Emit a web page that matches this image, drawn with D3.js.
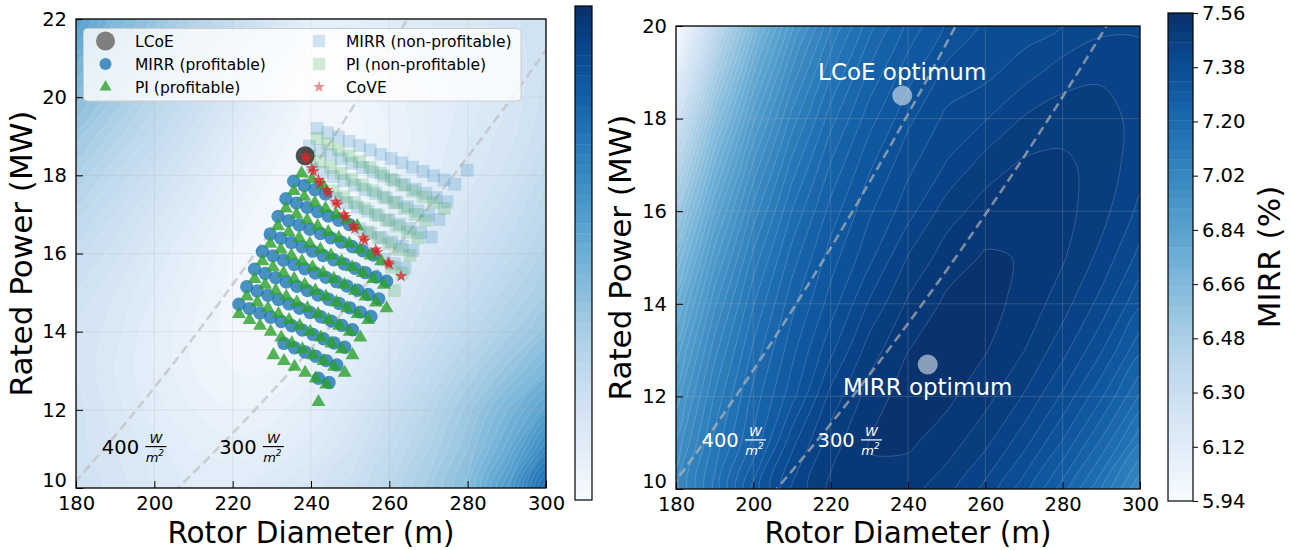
<!DOCTYPE html>
<html><head><meta charset="utf-8"><title>LCoE / MIRR design space</title>
<script src="https://cdn.jsdelivr.net/npm/d3@7/dist/d3.min.js"></script>
<style>html,body{margin:0;padding:0;background:#fff}svg{display:block}</style>
</head><body>
<svg id="chart" width="1290" height="550"></svg>
<script>
// ---------------- data ----------------
const xTicks = [180, 200, 220, 240, 260, 280, 300];
const yTicksLeft = [10, 12, 14, 16, 18, 20, 22];
const yTicksRight = [10, 12, 14, 16, 18, 20];
const mirrTicks = [5.94, 6.12, 6.30, 6.48, 6.66, 6.84, 7.02, 7.20, 7.38, 7.56];
const specificPowers = [400, 300];

// background field grids (rotor diameter columns, rated power rows)
const gridD = [180, 190, 200, 210, 220, 230, 240, 250, 260, 270, 280, 290, 300];
const leftGridP = [10, 11, 12, 13, 14, 15, 16, 17, 18, 19, 20, 21, 22];
const rightGridP = [10, 11, 12, 13, 14, 15, 16, 17, 18, 19, 20];

// normalised LCoE field (left panel, 0 = white, 1 = dark)
const lcoeField = [
  [0.20,0.17,0.14,0.12,0.12,0.14,0.17,0.21,0.28,0.35,0.43,0.58,0.78],
  [0.19,0.16,0.13,0.10,0.09,0.10,0.13,0.18,0.25,0.32,0.40,0.51,0.66],
  [0.19,0.15,0.11,0.08,0.06,0.07,0.10,0.15,0.22,0.29,0.37,0.46,0.55],
  [0.18,0.14,0.10,0.06,0.04,0.04,0.07,0.12,0.18,0.25,0.32,0.39,0.46],
  [0.18,0.15,0.10,0.06,0.03,0.02,0.05,0.09,0.15,0.21,0.27,0.33,0.39],
  [0.20,0.16,0.12,0.07,0.03,0.01,0.03,0.07,0.12,0.18,0.23,0.29,0.34],
  [0.23,0.19,0.14,0.09,0.04,0.01,0.02,0.05,0.10,0.15,0.20,0.25,0.31],
  [0.27,0.22,0.17,0.12,0.06,0.02,0.01,0.04,0.08,0.13,0.17,0.22,0.28],
  [0.32,0.26,0.21,0.15,0.09,0.04,0.01,0.03,0.07,0.11,0.15,0.19,0.25],
  [0.37,0.31,0.25,0.19,0.12,0.06,0.02,0.03,0.06,0.10,0.14,0.17,0.22],
  [0.43,0.36,0.29,0.23,0.16,0.09,0.04,0.04,0.07,0.10,0.13,0.16,0.21],
  [0.49,0.41,0.34,0.27,0.20,0.13,0.07,0.06,0.09,0.12,0.14,0.16,0.20],
  [0.56,0.46,0.39,0.31,0.25,0.17,0.10,0.09,0.12,0.14,0.15,0.17,0.20]
];

// MIRR (%) field (right panel)
const mirrField = [
  [6.997,7.149,7.313,7.435,7.504,7.523,7.509,7.474,7.420,7.346,7.252,7.139,7.005],
  [6.951,7.118,7.242,7.388,7.480,7.529,7.533,7.512,7.471,7.410,7.329,7.229,7.109],
  [6.893,7.078,7.215,7.321,7.442,7.510,7.544,7.535,7.507,7.460,7.392,7.306,7.199],
  [6.825,7.029,7.179,7.290,7.389,7.479,7.527,7.544,7.530,7.496,7.442,7.369,7.275],
  [6.743,6.970,7.136,7.258,7.348,7.435,7.501,7.534,7.538,7.518,7.477,7.418,7.338],
  [6.648,6.899,7.084,7.219,7.317,7.389,7.465,7.512,7.531,7.526,7.499,7.453,7.387],
  [6.538,6.818,7.022,7.172,7.281,7.360,7.417,7.480,7.511,7.521,7.507,7.475,7.422],
  [6.412,6.723,6.951,7.118,7.239,7.327,7.389,7.433,7.478,7.501,7.502,7.483,7.443],
  [6.269,6.616,6.870,7.055,7.190,7.287,7.357,7.406,7.428,7.466,7.482,7.477,7.451],
  [6.107,6.494,6.778,6.984,7.134,7.242,7.319,7.374,7.388,7.416,7.447,7.457,7.445],
  [5.924,6.357,6.673,6.903,7.070,7.191,7.277,7.337,7.371,7.380,7.398,7.422,7.425]
];

// scatter designs [rotor diameter (m), rated power (MW)]
const lcoeOptimum = [[238.5, 18.5]];
const mirrOptimum = [[245.1, 12.69]];

const mirrProfitable = [
  [235.6,17.85],[238.3,17.74],[241.0,17.63],[243.7,17.52],
  [233.6,17.40],[236.3,17.29],[239.0,17.18],[241.7,17.07],[244.4,16.96],[247.1,16.85],[249.8,16.74],
  [231.6,16.95],[234.3,16.84],[237.0,16.73],[239.7,16.62],[242.4,16.51],[245.1,16.40],[247.8,16.29],[250.5,16.18],[253.2,16.07],[255.9,15.96],
  [229.6,16.50],[232.3,16.39],[235.0,16.28],[237.7,16.17],[240.4,16.06],[243.1,15.95],[245.8,15.84],[248.5,15.73],[251.2,15.62],[253.9,15.51],[256.6,15.40],[259.3,15.29],
  [227.6,16.05],[230.3,15.94],[233.0,15.83],[235.7,15.72],[238.4,15.61],[241.1,15.50],[243.8,15.39],[246.5,15.28],[249.2,15.17],[251.9,15.06],[254.6,14.95],[257.3,14.84],
  [225.6,15.60],[228.3,15.49],[231.0,15.38],[233.7,15.27],[236.4,15.16],[239.1,15.05],[241.8,14.94],[244.5,14.83],[247.2,14.72],[249.9,14.61],[252.6,14.50],[255.3,14.39],
  [223.6,15.15],[226.3,15.04],[229.0,14.93],[231.7,14.82],[234.4,14.71],[237.1,14.60],[239.8,14.49],[242.5,14.38],[245.2,14.27],[247.9,14.16],[250.6,14.05],
  [221.6,14.70],[224.3,14.59],[227.0,14.48],[229.7,14.37],[232.4,14.26],[235.1,14.15],[237.8,14.04],[240.5,13.93],[243.2,13.82],[245.9,13.71],[248.6,13.60],
  [233.1,13.70],[235.8,13.59],[238.5,13.48],[241.2,13.37],[243.9,13.26],[246.6,13.15],
  [241.9,12.81],[244.6,12.70]
];

const piProfitable = [
  [237.6,18.05],[240.3,17.90],[243.0,17.75],
  [235.6,17.60],[238.3,17.45],[241.0,17.30],[243.7,17.15],[246.4,17.00],[249.1,16.85],[251.8,16.70],
  [233.6,17.15],[236.3,17.00],[239.0,16.85],[241.7,16.70],[244.4,16.55],[247.1,16.40],[249.8,16.25],[252.5,16.10],[255.2,15.95],[257.9,15.80],
  [231.6,16.70],[234.3,16.55],[237.0,16.40],[239.7,16.25],[242.4,16.10],[245.1,15.95],[247.8,15.80],[250.5,15.65],[253.2,15.50],[255.9,15.35],[258.6,15.20],
  [229.6,16.25],[232.3,16.10],[235.0,15.95],[237.7,15.80],[240.4,15.65],[243.1,15.50],[245.8,15.35],[248.5,15.20],[251.2,15.05],[253.9,14.90],[256.6,14.75],[259.3,14.60],
  [227.6,15.80],[230.3,15.65],[233.0,15.50],[235.7,15.35],[238.4,15.20],[241.1,15.05],[243.8,14.90],[246.5,14.75],[249.2,14.60],[251.9,14.45],[254.6,14.30],
  [225.6,15.35],[228.3,15.20],[231.0,15.05],[233.7,14.90],[236.4,14.75],[239.1,14.60],[241.8,14.45],[244.5,14.30],[247.2,14.15],[249.9,14.00],[252.6,13.85],
  [223.6,14.90],[226.3,14.75],[229.0,14.60],[231.7,14.45],[234.4,14.30],[237.1,14.15],[239.8,14.00],[242.5,13.85],[245.2,13.70],[247.9,13.55],[250.6,13.40],
  [221.6,14.45],[224.3,14.30],[227.0,14.15],[229.7,14.00],[232.4,13.85],[235.1,13.70],[237.8,13.55],[240.5,13.40],[243.2,13.25],[245.9,13.10],[248.6,12.95],
  [230.4,13.40],[233.1,13.25],[235.8,13.10],[238.5,12.95],[241.2,12.80],[243.9,12.65],
  [241.9,12.20]
];

const mirrNonProfitable = [
  [241.6,19.20],[244.3,19.09],[247.0,18.98],[249.7,18.87],[252.4,18.76],[255.1,18.65],[257.8,18.54],[260.5,18.43],[263.2,18.32],[265.9,18.21],[268.6,18.10],[271.3,17.99],[274.0,17.88],[276.7,17.77],[279.9,18.13],
  [239.6,18.75],[242.3,18.64],[245.0,18.53],[247.7,18.42],[250.4,18.31],[253.1,18.20],[255.8,18.09],[258.5,17.98],[261.2,17.87],[263.9,17.76],[266.6,17.65],[269.3,17.54],[272.0,17.43],[274.7,17.32],
  [240.3,18.19],[243.0,18.08],[245.7,17.97],[248.4,17.86],[251.1,17.75],[253.8,17.64],[256.5,17.53],[259.2,17.42],[261.9,17.31],[264.6,17.20],[267.3,17.09],[270.0,16.98],[272.7,16.87],
  [246.4,17.41],[249.1,17.30],[251.8,17.19],[254.5,17.08],[257.2,16.97],[259.9,16.86],[262.6,16.75],[265.3,16.64],[268.0,16.53],[270.7,16.42],
  [252.5,16.63],[255.2,16.52],[257.9,16.41],[260.6,16.30],[263.3,16.19],[266.0,16.08],
  [258.6,15.85],[261.3,15.74],[264.0,15.63]
];

const piNonProfitable = [
  [241.6,18.95],[244.3,18.80],[247.0,18.65],[249.7,18.50],[252.4,18.35],[255.1,18.20],[257.8,18.05],[260.5,17.90],[263.2,17.75],[265.9,17.60],[268.6,17.45],[271.3,17.30],[274.0,17.15],
  [239.6,18.50],[242.3,18.35],[245.0,18.20],[247.7,18.05],[250.4,17.90],[253.1,17.75],[255.8,17.60],[258.5,17.45],[261.2,17.30],[263.9,17.15],[266.6,17.00],[269.3,16.85],
  [245.7,17.60],[248.4,17.45],[251.1,17.30],[253.8,17.15],[256.5,17.00],[259.2,16.85],[261.9,16.70],[264.6,16.55],[267.3,16.40],
  [254.5,16.55],[257.2,16.40],[259.9,16.25],[262.6,16.10],[265.3,15.95],
  [260.6,15.65],[263.3,15.50],
  [261.3,15.05]
];

const coveDesigns = [
  [238.5,18.49],[238.9,18.42],[240.2,18.18],[240.6,18.10],[241.9,17.88],[242.3,17.80],
  [244.0,17.62],[244.4,17.55],[246.3,17.32],[246.7,17.25],[248.4,17.00],[248.8,16.93],
  [250.8,16.70],[251.2,16.63],[253.3,16.40],[253.7,16.33],[256.5,16.10],[256.9,16.03],
  [259.7,15.77],[260.0,15.72],[263.0,15.42]
];

// ---------------- layout ----------------
const FONT = '"DejaVu Sans", sans-serif';
const svg = d3.select('#chart').attr('font-family', FONT);
const defs = svg.append('defs');

const boxL = {x0: 76, x1: 546, y0: 19, y1: 488};
const boxR = {x0: 676, x1: 1140, y0: 26, y1: 489};
const cbL = {x0: 575, x1: 592, y0: 6, y1: 500};
const cbR = {x0: 1168, x1: 1193, y0: 13, y1: 501};
const nLevels = 50;

const xL = d3.scaleLinear([180, 300], [boxL.x0, boxL.x1]);
const yL = d3.scaleLinear([10, 22], [boxL.y1, boxL.y0]);
const xR = d3.scaleLinear([180, 300], [boxR.x0, boxR.x1]);
const yR = d3.scaleLinear([10, 20], [boxR.y1, boxR.y0]);

function makeClip(id, b) {
  defs.append('clipPath').attr('id', id).append('rect')
    .attr('x', b.x0).attr('y', b.y0).attr('width', b.x1 - b.x0).attr('height', b.y1 - b.y0);
}
makeClip('clipL', boxL);
makeClip('clipR', boxR);

const bandColor = k => d3.interpolateBlues((k + 0.5) / nLevels);

function drawField(g, field, colsD, rowsP, thresholds, xs, ys, lineOpacity) {
  const nx = colsD.length, ny = rowsP.length;
  const values = [];
  for (let j = 0; j < ny; j++) for (let i = 0; i < nx; i++) values.push(field[j][i]);
  const dD = colsD[1] - colsD[0], dP = rowsP[1] - rowsP[0];
  const proj = p => [xs(colsD[0] + (p[0] - 0.5) * dD), ys(rowsP[0] + (p[1] - 0.5) * dP)];
  const line = d3.line().curve(d3.curveCatmullRomClosed.alpha(0.5));
  const cs = d3.contours().size([nx, ny]).smooth(true).thresholds(thresholds)(values);
  const paths = cs.map(c => {
    let s = '';
    c.coordinates.forEach(poly => poly.forEach(ring => {
      const pts = ring.slice(0, -1).map(proj);
      if (pts.length > 2) s += line(pts);
    }));
    return s;
  });
  const fills = g.append('g');
  paths.forEach((d, k) => {
    if (!d) return;
    fills.append('path').attr('d', d).attr('fill', bandColor(k)).attr('fill-rule', 'evenodd')
      .attr('stroke', bandColor(k)).attr('stroke-width', 0.4);
  });
  const lines = g.append('g').attr('fill', 'none').attr('stroke', '#fff')
    .attr('stroke-opacity', lineOpacity).attr('stroke-width', 0.6);
  paths.forEach((d, k) => { if (d && k > 0) lines.append('path').attr('d', d); });
}

function drawGrid(g, xs, ys, box, yTicks) {
  const gg = g.append('g').attr('stroke', '#b0b0b0').attr('stroke-opacity', 0.3).attr('stroke-width', 0.8);
  xTicks.forEach(v => gg.append('line').attr('x1', xs(v)).attr('x2', xs(v)).attr('y1', box.y0).attr('y2', box.y1));
  yTicks.forEach(v => gg.append('line').attr('x1', box.x0).attr('x2', box.x1).attr('y1', ys(v)).attr('y2', ys(v)));
}

function drawSpecificPowerLines(g, xs, ys) {
  const line = d3.line().x(d => xs(d[0])).y(d => ys(d[1]));
  specificPowers.forEach(sp => {
    const pts = d3.range(170, 312, 2).map(D => [D, sp * Math.PI / 4 * D * D / 1e6]);
    g.append('path').attr('d', line(pts)).attr('fill', 'none')
      .attr('stroke', '#bbbbbb').attr('stroke-opacity', 0.65).attr('stroke-width', 2.6)
      .attr('stroke-dasharray', '9,5');
  });
}

function spLabel(g, xs, ys, D, P, num, color) {
  const x = xs(D), y = ys(P);
  const t = g.append('g').attr('fill', color);
  t.append('text').attr('x', x).attr('y', y).attr('dy', '0.36em').attr('font-size', 19.5).text(num);
  const fx = x + 43.5, fw = 21;
  g.append('line').attr('x1', fx).attr('x2', fx + fw).attr('y1', y).attr('y2', y)
    .attr('stroke', color).attr('stroke-width', 1.2);
  t.append('text').attr('x', fx + fw / 2).attr('y', y - 4).attr('text-anchor', 'middle')
    .attr('font-size', 13).attr('font-style', 'italic').text('W');
  const m = t.append('text').attr('x', fx + fw / 2 - 1).attr('y', y + 15).attr('text-anchor', 'middle')
    .attr('font-size', 13).attr('font-style', 'italic');
  m.append('tspan').text('m');
  m.append('tspan').attr('font-size', 9).attr('dy', -6).text('2');
}

function drawAxes(g, xs, ys, box, yTicks) {
  const ax = g.append('g').attr('transform', `translate(0,${box.y1})`)
    .call(d3.axisBottom(xs).tickValues(xTicks).tickSizeInner(-7).tickSizeOuter(0).tickPadding(8).tickFormat(d3.format('d')));
  const ay = g.append('g').attr('transform', `translate(${box.x0},0)`)
    .call(d3.axisLeft(ys).tickValues(yTicks).tickSizeInner(-7).tickSizeOuter(0).tickPadding(9).tickFormat(d3.format('d')));
  [ax, ay].forEach(a => {
    a.select('.domain').remove();
    a.attr('font-size', 19.5).attr('font-family', FONT);
    a.selectAll('text').attr('fill', '#000');
    a.selectAll('line').attr('stroke', '#000').attr('stroke-width', 1);
  });
  // lift the lowest y label slightly so it clears the first x label in the corner
  ay.selectAll('.tick').filter(d => d === yTicks[0]).select('text').attr('dy', '-0.06em');
  g.append('rect').attr('x', box.x0).attr('y', box.y0).attr('width', box.x1 - box.x0)
    .attr('height', box.y1 - box.y0).attr('fill', 'none').attr('stroke', '#000').attr('stroke-width', 1.3);
  g.append('text').attr('x', (box.x0 + box.x1) / 2).attr('y', 543).attr('text-anchor', 'middle')
    .attr('font-size', 29.5).attr('fill', '#000').text('Rotor Diameter (m)');
}

function drawColorbar(g, cb, lo, hi, ticks) {
  const s = d3.scaleLinear([lo, hi], [cb.y1, cb.y0]);
  const step = (hi - lo) / nLevels;
  for (let k = 0; k < nLevels; k++) {
    const v0 = lo + k * step, v1 = v0 + step;
    g.append('rect').attr('x', cb.x0).attr('width', cb.x1 - cb.x0)
      .attr('y', s(v1)).attr('height', s(v0) - s(v1) + 0.4).attr('fill', bandColor(k));
  }
  g.append('rect').attr('x', cb.x0).attr('y', cb.y0).attr('width', cb.x1 - cb.x0).attr('height', cb.y1 - cb.y0)
    .attr('fill', 'none').attr('stroke', '#000').attr('stroke-width', 1.2);
  if (ticks) {
    const a = g.append('g').attr('transform', `translate(${cb.x1},0)`)
      .call(d3.axisRight(s).tickValues(ticks).tickSize(5).tickPadding(4).tickFormat(d3.format('.2f')));
    a.select('.domain').remove();
    a.attr('font-size', 19.5).attr('font-family', FONT);
    a.selectAll('text').attr('fill', '#000');
    a.selectAll('line').attr('stroke', '#000').attr('stroke-width', 1);
  }
}

// ---------------- left panel ----------------
const gL = svg.append('g');
const plotL = gL.append('g').attr('clip-path', 'url(#clipL)');
plotL.append('rect').attr('x', boxL.x0).attr('y', boxL.y0).attr('width', boxL.x1 - boxL.x0)
  .attr('height', boxL.y1 - boxL.y0).attr('fill', d3.interpolateBlues(0));
drawField(plotL, lcoeField, gridD, leftGridP, d3.range(nLevels).map(k => k / nLevels), xL, yL, 0.28);
drawGrid(plotL, xL, yL, boxL, yTicksLeft);
drawSpecificPowerLines(plotL, xL, yL);
spLabel(gL, xL, yL, 186.6, 11.06, '400', '#000');
spLabel(gL, xL, yL, 216.6, 11.06, '300', '#000');

const sq = d3.symbol(d3.symbolSquare, 165)();
const tri = d3.symbol(d3.symbolTriangle, 84)();
const star = d3.symbol(d3.symbolStar, 50)();

plotL.append('g').selectAll('path').data(mirrNonProfitable).join('path')
  .attr('d', sq).attr('transform', d => `translate(${xL(d[0])},${yL(d[1])})`)
  .attr('fill', '#1f77b4').attr('fill-opacity', 0.2);
plotL.append('g').selectAll('path').data(piNonProfitable).join('path')
  .attr('d', sq).attr('transform', d => `translate(${xL(d[0])},${yL(d[1])})`)
  .attr('fill', '#2ca02c').attr('fill-opacity', 0.2);
plotL.append('g').selectAll('circle').data(mirrProfitable).join('circle')
  .attr('cx', d => xL(d[0])).attr('cy', d => yL(d[1])).attr('r', 6.7)
  .attr('fill', '#1f77b4').attr('fill-opacity', 0.8);
plotL.append('g').selectAll('path').data(piProfitable).join('path')
  .attr('d', tri).attr('transform', d => `translate(${xL(d[0])},${yL(d[1])})`)
  .attr('fill', '#2ca02c').attr('fill-opacity', 0.8);
plotL.append('g').selectAll('circle').data(lcoeOptimum).join('circle')
  .attr('cx', d => xL(d[0])).attr('cy', d => yL(d[1])).attr('r', 9.5)
  .attr('fill', '#333').attr('fill-opacity', 0.85);
plotL.append('g').selectAll('path').data(coveDesigns).join('path')
  .attr('d', star).attr('transform', d => `translate(${xL(d[0])},${yL(d[1])})`)
  .attr('fill', '#d62728').attr('fill-opacity', 0.75);

drawAxes(gL, xL, yL, boxL, yTicksLeft);
gL.append('text').attr('transform', `translate(32,${(boxL.y0 + boxL.y1) / 2}) rotate(-90)`)
  .attr('text-anchor', 'middle').attr('font-size', 31).attr('fill', '#000').text('Rated Power (MW)');

// legend
const lg = gL.append('g');
lg.append('rect').attr('x', 83.5).attr('y', 28.5).attr('width', 437.5).attr('height', 72.5).attr('rx', 4)
  .attr('fill', '#fff').attr('fill-opacity', 0.8).attr('stroke', '#cccccc').attr('stroke-width', 1);
const legendItems = [
  {label: 'LCoE', col: 0, row: 0, kind: 'bigcircle'},
  {label: 'MIRR (profitable)', col: 0, row: 1, kind: 'circle'},
  {label: 'PI (profitable)', col: 0, row: 2, kind: 'triangle'},
  {label: 'MIRR (non-profitable)', col: 1, row: 0, kind: 'bsquare'},
  {label: 'PI (non-profitable)', col: 1, row: 1, kind: 'gsquare'},
  {label: 'CoVE', col: 1, row: 2, kind: 'star'}
];
const legColX = [105.5, 319], legTextX = [135, 346], legRowY = [41, 64, 87];
legendItems.forEach(it => {
  const mx = legColX[it.col], my = legRowY[it.row];
  if (it.kind === 'bigcircle') lg.append('circle').attr('cx', mx).attr('cy', my).attr('r', 9.5).attr('fill', '#7f7f7f');
  if (it.kind === 'circle') lg.append('circle').attr('cx', mx).attr('cy', my).attr('r', 6).attr('fill', '#1f77b4').attr('fill-opacity', 0.8);
  if (it.kind === 'triangle') lg.append('path').attr('d', d3.symbol(d3.symbolTriangle, 62)()).attr('transform', `translate(${mx},${my})`).attr('fill', '#2ca02c').attr('fill-opacity', 0.8);
  if (it.kind === 'bsquare') lg.append('path').attr('d', d3.symbol(d3.symbolSquare, 150)()).attr('transform', `translate(${mx},${my})`).attr('fill', '#1f77b4').attr('fill-opacity', 0.2);
  if (it.kind === 'gsquare') lg.append('path').attr('d', d3.symbol(d3.symbolSquare, 150)()).attr('transform', `translate(${mx},${my})`).attr('fill', '#2ca02c').attr('fill-opacity', 0.2);
  if (it.kind === 'star') lg.append('path').attr('d', d3.symbol(d3.symbolStar, 44)()).attr('transform', `translate(${mx},${my})`).attr('fill', '#d62728').attr('fill-opacity', 0.5);
  lg.append('text').attr('x', legTextX[it.col]).attr('y', my).attr('dy', '0.36em')
    .attr('font-size', 15.5).attr('fill', '#000').text(it.label);
});

drawColorbar(svg.append('g'), cbL, 0, 1, null);

// ---------------- right panel ----------------
const gR = svg.append('g');
const plotR = gR.append('g').attr('clip-path', 'url(#clipR)');
plotR.append('rect').attr('x', boxR.x0).attr('y', boxR.y0).attr('width', boxR.x1 - boxR.x0)
  .attr('height', boxR.y1 - boxR.y0).attr('fill', d3.interpolateBlues(0));
drawField(plotR, mirrField, gridD, rightGridP,
  d3.range(nLevels).map(k => 5.94 + k * (7.56 - 5.94) / nLevels), xR, yR, 0.3);
drawGrid(plotR, xR, yR, boxR, yTicksRight);
drawSpecificPowerLines(plotR, xR, yR);
spLabel(gR, xR, yR, 186.6, 11.06, '400', '#fff');
spLabel(gR, xR, yR, 216.6, 11.06, '300', '#fff');

plotR.append('g').selectAll('circle').data(lcoeOptimum.concat(mirrOptimum)).join('circle')
  .attr('cx', d => xR(d[0])).attr('cy', d => yR(d[1])).attr('r', 10)
  .attr('fill', '#fff').attr('fill-opacity', 0.52);
gR.append('text').attr('x', xR(lcoeOptimum[0][0])).attr('y', yR(lcoeOptimum[0][1]) - 15)
  .attr('text-anchor', 'middle').attr('font-size', 23).attr('fill', '#fff').text('LCoE optimum');
gR.append('text').attr('x', xR(mirrOptimum[0][0])).attr('y', yR(mirrOptimum[0][1]) + 31)
  .attr('text-anchor', 'middle').attr('font-size', 23).attr('fill', '#fff').text('MIRR optimum');

drawAxes(gR, xR, yR, boxR, yTicksRight);
gR.append('text').attr('transform', `translate(631,${(boxR.y0 + boxR.y1) / 2}) rotate(-90)`)
  .attr('text-anchor', 'middle').attr('font-size', 31).attr('fill', '#000').text('Rated Power (MW)');

drawColorbar(svg.append('g'), cbR, 5.94, 7.56, mirrTicks);
svg.append('text').attr('transform', `translate(1280,${(cbR.y0 + cbR.y1) / 2}) rotate(-90)`)
  .attr('text-anchor', 'middle').attr('font-size', 31).attr('fill', '#000').text('MIRR (%)');
</script>
</body></html>
